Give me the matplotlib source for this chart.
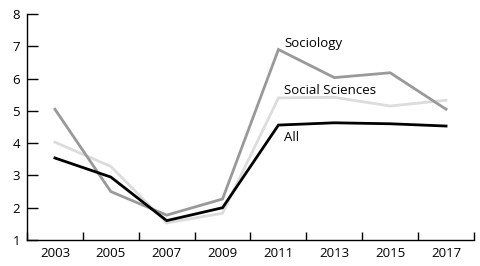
import matplotlib.pyplot as plt
import numpy as np

years = ['2003', '2005', '2007', '2009', '2011', '2013', '2015', '2017']
sociology = [5.05, 2.5, 1.77, 2.27, 6.9, 6.03, 6.18, 5.05]
social_sciences = [4.03, 3.28, 1.53, 1.83, 5.4, 5.42, 5.15, 5.33]
all_fields = [3.54, 2.95, 1.6, 2.0, 4.56, 4.63, 4.6, 4.53]

plt.rcParams['font.family'] = ['Open Sans', 'DejaVu Sans']

fig = plt.figure(figsize=(4.81, 2.66), dpi=100)
ax = fig.add_axes([27/481, 26/266, 447/481, 226/266])

x = np.arange(len(years)) + 0.5
ax.plot(x, social_sciences, color='#dcdcdc', lw=2.0, solid_joinstyle='miter')
ax.plot(x, sociology, color='#999999', lw=2.0, solid_joinstyle='miter')
ax.plot(x, all_fields, color='black', lw=2.0, solid_joinstyle='miter')

# labels sit just right of the 2011 points
ax.text(4.6, 6.9, 'Sociology', fontsize=9.5, va='bottom', ha='left')
ax.text(4.6, 5.42, 'Social Sciences', fontsize=9.5, va='bottom', ha='left')
ax.text(4.6, 4.38, 'All', fontsize=9.5, va='top', ha='left')

ax.set_xlim(0, len(years))
ax.set_ylim(1, 8)
ax.set_xticks(np.arange(len(years) + 1))
ax.set_xticklabels([])
ax.set_xticks(x, minor=True)
ax.set_xticklabels(years, minor=True, fontsize=9.5)
ax.tick_params(axis='x', which='minor', length=0, pad=5)
ax.tick_params(axis='x', which='major', direction='in', length=6, width=1)
ax.set_yticks(range(1, 9))
ax.tick_params(axis='y', direction='in', length=8, width=1, labelsize=9.5, pad=5)

for s in ['top', 'right']:
    ax.spines[s].set_visible(False)
for s in ['left', 'bottom']:
    ax.spines[s].set_linewidth(1)

fig.savefig('out.png', dpi=100)
